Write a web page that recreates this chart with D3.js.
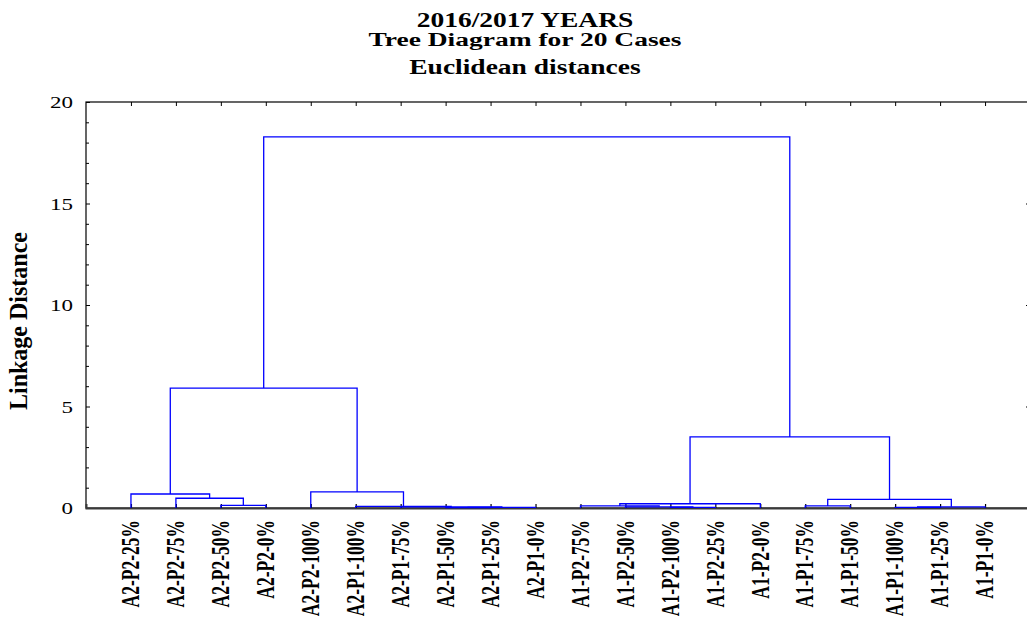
<!DOCTYPE html>
<html>
<head>
<meta charset="utf-8">
<script src="https://cdn.jsdelivr.net/npm/d3@7"></script>
<style>
  html, body { margin: 0; padding: 0; background: #fff; }
  svg { display: block; }
</style>
</head>
<body>
<svg id="chart" width="1027" height="617"></svg>
<script>
// Case labels, left to right in dendrogram order
const caseLabels = [
  "A2-P2-25%", "A2-P2-75%", "A2-P2-50%", "A2-P2-0%", "A2-P2-100%",
  "A2-P1-100%", "A2-P1-75%", "A2-P1-50%", "A2-P1-25%", "A2-P1-0%",
  "A1-P2-75%", "A1-P2-50%", "A1-P2-100%", "A1-P2-25%", "A1-P2-0%",
  "A1-P1-75%", "A1-P1-50%", "A1-P1-100%", "A1-P1-25%", "A1-P1-0%"
];

// Linkage steps: ids 0..19 are cases, each step creates id 20, 21, ...
const mergeLeft   = [2, 1, 0, 7, 23, 6, 5, 4, 22, 12, 11, 10, 31, 15, 17, 34, 33, 32, 28];
const mergeRight  = [3, 20, 21, 8, 9, 24, 25, 26, 27, 13, 29, 30, 14, 16, 18, 19, 35, 36, 37];
const mergeHeight = [0.13, 0.48, 0.69, 0.02, 0.03, 0.06, 0.08, 0.79, 5.91,
                     0.03, 0.06, 0.10, 0.21, 0.10, 0.03, 0.06, 0.42, 3.50, 18.28];

const yTickValues = [0, 5, 10, 15, 20];
const titleLines = ["2016/2017 YEARS", "Tree Diagram for 20 Cases", "Euclidean distances"];
const yAxisTitle = "Linkage Distance";

// Layout
const margin = { left: 86, top: 102 };
const W = 944, H = 406;
const svg = d3.select("#chart");
const g = svg.append("g").attr("transform", `translate(${margin.left},${margin.top})`);

const x = d3.scalePoint().domain(caseLabels).range([0, W]).padding(1);
const y = d3.scaleLinear().domain([0, 20]).range([H, 0]);

// Build the cluster tree from the linkage steps
const nodes = caseLabels.map(name => ({ name, height: 0 }));
mergeLeft.forEach((a, i) => {
  nodes.push({ name: "m" + (20 + i), height: mergeHeight[i], children: [nodes[a], nodes[mergeRight[i]]] });
});
const root = d3.hierarchy(nodes[nodes.length - 1]);
root.eachAfter(d => {
  d.px = d.children ? (d.children[0].px + d.children[1].px) / 2 : x(d.data.name);
});

// Titles
const serif = "'Liberation Serif', 'Times New Roman', serif";
const titleY = [26.5, 46, 73.5];
const titleScale = [0.74, 0.72, 0.74];
titleLines.forEach((t, i) => {
  svg.append("text")
    .attr("transform", `translate(525,${titleY[i]}) scale(1,${titleScale[i]})`)
    .attr("text-anchor", "middle")
    .attr("font-family", serif)
    .attr("font-weight", "bold")
    .attr("font-size", 27.5)
    .attr("fill", "#000")
    .text(t);
});

// Frame
g.append("rect")
  .attr("x", 0).attr("y", 0).attr("width", W).attr("height", H)
  .attr("fill", "none").attr("stroke", "#000").attr("stroke-width", 1.2);

// Left axis: major ticks with labels, minor ticks every unit
const leftAxis = g.append("g").call(
  d3.axisLeft(y).tickValues(yTickValues).tickSize(-4).tickPadding(13)
);
leftAxis.select(".domain").remove();
leftAxis.selectAll("line").attr("stroke", "#000");
leftAxis.selectAll("text")
  .attr("font-family", serif)
  .attr("font-size", 23)
  .attr("fill", "#000")
  .attr("transform", "scale(1,0.77)");

const minorValues = d3.range(1, 20).filter(v => v % 5 !== 0);
const leftMinor = g.append("g").call(d3.axisLeft(y).tickValues(minorValues).tickSize(-3).tickFormat(""));
leftMinor.select(".domain").remove();
leftMinor.selectAll("line").attr("stroke", "#000");

// Right axis ticks
const rightAxis = g.append("g").attr("transform", `translate(${W},0)`)
  .call(d3.axisRight(y).tickValues([5, 10, 15]).tickSize(-4).tickFormat(""));
rightAxis.select(".domain").remove();
rightAxis.selectAll("line").attr("stroke", "#000");

// Top axis ticks at case positions
const topAxis = g.append("g").call(d3.axisTop(x).tickSize(-4).tickFormat(""));
topAxis.select(".domain").remove();
topAxis.selectAll("line").attr("stroke", "#000");

// Bottom axis with case labels
const bottomAxis = g.append("g").attr("transform", `translate(0,${H})`)
  .call(d3.axisBottom(x).tickSize(-4).tickFormat(""));
bottomAxis.select(".domain")
  .attr("stroke", "#3a3a3a").attr("stroke-width", 2);
bottomAxis.selectAll("line").attr("stroke", "#000").attr("stroke-width", 1.2);

g.append("g").selectAll("text").data(caseLabels).join("text")
  .attr("transform", d => `translate(${x(d)},${H + 12}) rotate(-90) scale(0.7,1)`)
  .attr("text-anchor", "end")
  .attr("dy", "0.33em")
  .attr("font-family", serif)
  .attr("font-weight", "bold")
  .attr("font-size", 25)
  .attr("fill", "#000")
  .text(d => d);

// Y axis title
svg.append("text")
  .attr("transform", "translate(27,321) rotate(-90) scale(0.96,1)")
  .attr("text-anchor", "middle")
  .attr("font-family", serif)
  .attr("font-weight", "bold")
  .attr("font-size", 25)
  .attr("fill", "#000")
  .text(yAxisTitle);

// Dendrogram elbows
const links = root.descendants().filter(d => d.children);
g.append("g").selectAll("path").data(links).join("path")
  .attr("d", d => {
    const [a, b] = d.children;
    return `M${a.px},${y(a.data.height)}V${y(d.data.height)}H${b.px}V${y(b.data.height)}`;
  })
  .attr("fill", "none")
  .attr("stroke", "#0000ff")
  .attr("stroke-width", 1.3);
</script>
</body>
</html>
